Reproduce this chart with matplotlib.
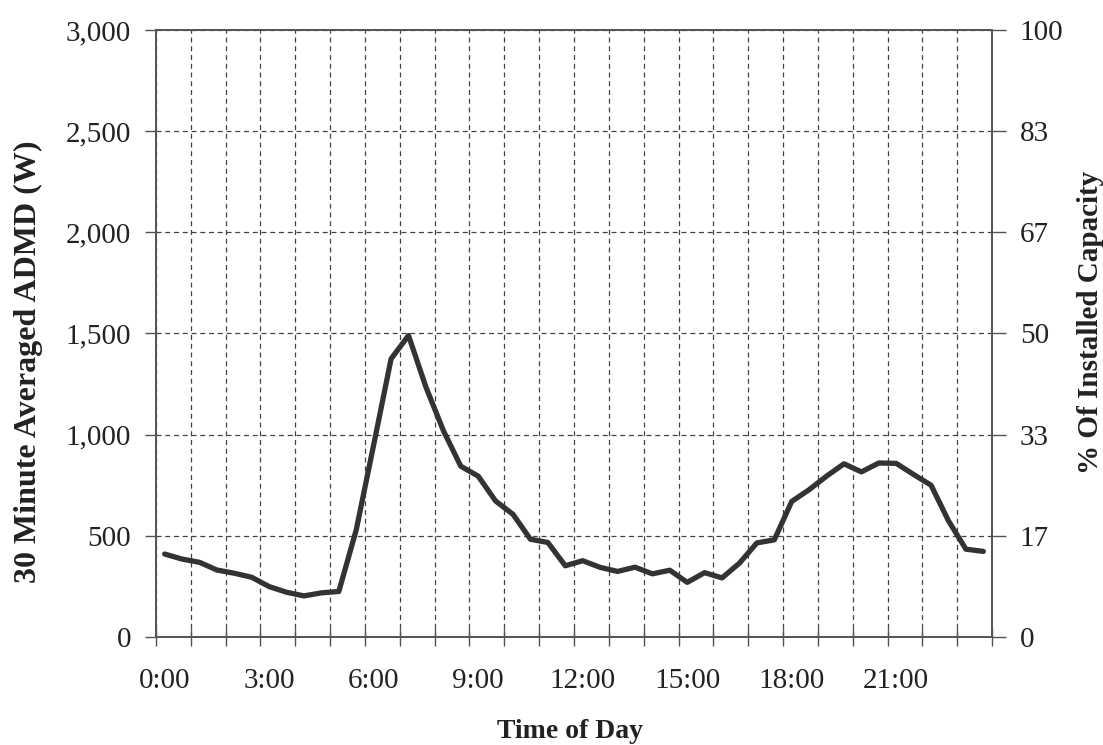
import numpy as np
import matplotlib
matplotlib.use("Agg")
import matplotlib.pyplot as plt
from matplotlib.ticker import FixedLocator, NullFormatter

plt.rcParams['font.family'] = ['Liberation Serif', 'DejaVu Serif']

# half-hour averaged ADMD (W), one value per 30-minute slot starting at 0:00
admd = [410, 385, 369, 331, 315, 295, 249, 221, 203, 218,
        225, 530, 950, 1375, 1490, 1235, 1020, 844, 795, 672,
        606, 483, 467, 352, 377, 344, 324, 345, 312, 330,
        270, 318, 292, 365, 465, 480, 670, 728, 795, 856,
        816, 860, 858, 803, 750, 574, 434, 423]
hour_labels = ['0:00', '3:00', '6:00', '9:00', '12:00', '15:00', '18:00', '21:00']
pct_labels = ['0', '17', '33', '50', '67', '83', '100']

slot = np.arange(len(admd))
x = (slot + 0.5) * 0.5        # slot centres, in hours

fig = plt.figure(figsize=(11.03, 7.45), dpi=100)
ax = fig.add_axes([0.1414, 0.145, 0.7580, 0.8147])

ax.plot(x, admd, color='#333333', lw=3.8, solid_joinstyle='round',
        solid_capstyle='round', zorder=3)

ax.set_xlim(0, 24)
ax.set_ylim(0, 3000)

# hourly ticks with grid, labels every 3 hours on slot centres
ax.xaxis.set_major_locator(FixedLocator(np.arange(0, 25, 1)))
ax.xaxis.set_major_formatter(NullFormatter())
ax.xaxis.set_minor_locator(FixedLocator(np.arange(0, 24, 3) + 0.25))
ax.set_xticklabels(hour_labels, minor=True)
ax.tick_params(axis='x', which='major', direction='inout', length=13,
               width=1.0, color='#555555')
ax.tick_params(axis='x', which='minor', length=0, pad=22, labelsize=21,
               labelcolor='#222222')

yt = np.arange(0, 3001, 500)
ax.set_yticks(yt)
ax.set_yticklabels([f'{v:,}' for v in yt])
ax.tick_params(axis='y', direction='out', length=8, width=1.0, color='#555555',
               pad=10, labelsize=21, labelcolor='#222222')

ax.grid(True, which='major', axis='both', color='#444444', lw=0.9,
        linestyle=(0, (4, 3)))

for side in ['left', 'bottom', 'top', 'right']:
    ax.spines[side].set_color('#555555')
    ax.spines[side].set_linewidth(1.3)

ax2 = ax.twinx()
ax2.set_ylim(0, 100)
ax2.set_yticks(np.linspace(0, 100, 7))
ax2.set_yticklabels(pct_labels)
ax2.tick_params(axis='y', direction='out', length=10, width=1.0,
                color='#555555', pad=10, labelsize=21, labelcolor='#222222')
for side in ['left', 'bottom', 'top', 'right']:
    ax2.spines[side].set_color('#555555')
    ax2.spines[side].set_linewidth(1.3)

fig.text(570 / 1103, 1 - 732 / 745, 'Time of Day', ha='center', va='center',
         fontsize=20, fontweight='bold', color='#222222')
fig.text(28 / 1103, 1 - 362 / 745, '30 Minute Averaged ADMD (W)', ha='center',
         va='center', rotation=90, fontsize=23, fontweight='bold', color='#222222')
fig.text(1090 / 1103, 1 - 322 / 745, '% Of Installed Capacity', ha='center',
         va='center', rotation=90, fontsize=21, fontweight='bold', color='#222222')

fig.savefig('out.png', dpi=100)
